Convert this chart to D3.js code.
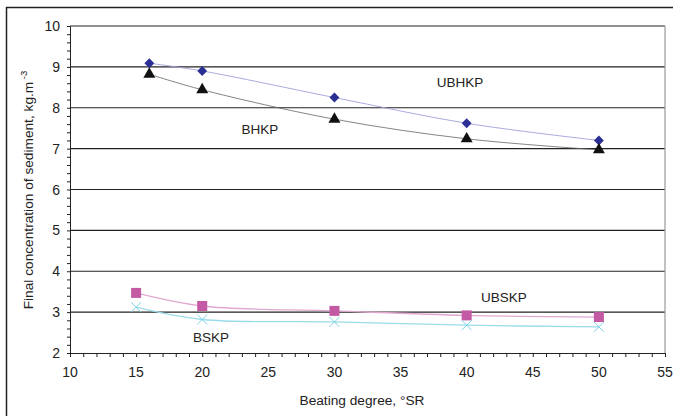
<!DOCTYPE html>
<html>
<head>
<meta charset="utf-8">
<script src="https://cdn.jsdelivr.net/npm/d3@7"></script>
<style>
  body { margin: 0; background: #fff; }
  text { font-family: "Liberation Sans", Arial, sans-serif; fill: #222; }
</style>
</head>
<body>
<svg id="chart" width="673" height="416"></svg>
<script>
// beating degree (°SR) for each series
var xHK = [16, 20, 30, 40, 50];
var xSK = [15, 20, 30, 40, 50];

// final concentration of sediment, kg.m-3
var ubhkp = [9.09, 8.9, 8.25, 7.62, 7.2];
var bhkp  = [8.82, 8.44, 7.72, 7.24, 6.97];
var ubskp = [3.47, 3.15, 3.03, 2.92, 2.88];
var bskp  = [3.12, 2.82, 2.76, 2.68, 2.64];

var xTicks = [10, 15, 20, 25, 30, 35, 40, 45, 50, 55];
var yTicks = [2, 3, 4, 5, 6, 7, 8, 9, 10];

var svg = d3.select("#chart");

// plot area (note: "top" is taken by window.top, so prefix these)
var pLeft = 70, pRight = 665, pTop = 26, pBottom = 353;

var x = d3.scaleLinear().domain([10, 55]).range([pLeft, pRight]);
var y = d3.scaleLinear().domain([2, 10]).range([pBottom, pTop]);

// outer frame (only top and left visible)
svg.append("line").attr("x1", 6).attr("x2", 673).attr("y1", 7.5).attr("y2", 7.5)
  .style("stroke", "#222").style("stroke-width", 1.5);
svg.append("line").attr("x1", 6.5).attr("x2", 6.5).attr("y1", 7).attr("y2", 416)
  .style("stroke", "#222").style("stroke-width", 1.5);

// gridlines
svg.selectAll(".grid")
  .data(yTicks.slice(1))
  .enter()
  .append("line")
  .attr("class", "grid")
  .attr("x1", pLeft).attr("x2", pRight)
  .attr("y1", d => y(d)).attr("y2", d => y(d))
  .style("stroke", "#222").style("stroke-width", 1.1);

// right edge of plot
svg.append("line").attr("x1", pRight).attr("x2", pRight).attr("y1", pTop).attr("y2", pBottom)
  .style("stroke", "#999").style("stroke-width", 1.2);

// y axis
var yAxis = svg.append("g").attr("transform", "translate(" + pLeft + ",0)");
yAxis.call(d3.axisLeft(y).tickValues(d3.range(2, 10.01, 0.2)).tickSize(3).tickFormat(""));
yAxis.selectAll("line").style("stroke", "#222");
yAxis.select(".domain").style("stroke", "#222");
svg.append("g").selectAll("text")
  .data(yTicks).enter().append("text")
  .attr("x", pLeft - 10).attr("y", d => y(d) + 5)
  .attr("text-anchor", "end").style("font-size", "14px")
  .text(d => d);

// x axis
var xAxis = svg.append("g").attr("transform", "translate(0," + pBottom + ")");
xAxis.call(d3.axisBottom(x).tickValues(d3.range(10, 55.01, 1)).tickSize(4).tickFormat(""));
xAxis.selectAll("line").style("stroke", "#222");
xAxis.select(".domain").style("stroke", "#222");
svg.append("g").selectAll("text")
  .data(xTicks).enter().append("text")
  .attr("x", d => x(d)).attr("y", pBottom + 24)
  .attr("text-anchor", "middle").style("font-size", "14px")
  .text(d => d);

// axis titles
svg.append("text")
  .attr("x", 362).attr("y", 405)
  .attr("text-anchor", "middle").style("font-size", "13.7px")
  .text("Beating degree, °SR");

var yt = svg.append("text")
  .attr("transform", "translate(33,190) rotate(-90)")
  .attr("text-anchor", "middle").style("font-size", "13.7px");
yt.append("tspan").text("Final concentration of sediment, kg.m");
yt.append("tspan").attr("dy", -6).style("font-size", "9.5px").text(" -3");

// series
var line = d3.line().curve(d3.curveCatmullRom.alpha(0.5))
  .x(d => x(d[0])).y(d => y(d[1]));

function series(xs, ys, color, w, marker, markerColor) {
  var pts = xs.map((v, i) => [v, ys[i]]);
  svg.append("path").datum(pts).attr("d", line)
    .style("fill", "none").style("stroke", color).style("stroke-width", w);
  var g = svg.append("g").selectAll("g").data(pts).enter().append("g")
    .attr("transform", d => "translate(" + x(d[0]) + "," + y(d[1]) + ")");
  if (marker == "diamond") {
    g.append("path").attr("d", d3.symbol().type(d3.symbolDiamond2).size(62))
      .style("fill", markerColor);
  } else if (marker == "triangle") {
    g.append("path").attr("d", d3.symbol().type(d3.symbolTriangle).size(62))
      .style("fill", markerColor);
  } else if (marker == "square") {
    g.append("rect").attr("x", -5).attr("y", -5).attr("width", 10).attr("height", 10)
      .style("fill", markerColor);
  } else if (marker == "cross") {
    g.append("path").attr("d", "M-5,-5L5,5M-5,5L5,-5")
      .style("stroke", markerColor).style("stroke-width", 1);
  }
}

series(xHK, ubhkp, "#a0a0dc", 0.9, "diamond", "#2b2f94");
series(xHK, bhkp, "#666", 0.8, "triangle", "#111");
series(xSK, ubskp, "#e0a8d0", 1.3, "square", "#c45aa4");
series(xSK, bskp, "#9adcea", 1.3, "cross", "#7fd3e6");

// series labels
var labels = [["UBHKP", 460, 87], ["BHKP", 260, 134], ["UBSKP", 504, 302], ["BSKP", 211, 342]];
svg.append("g").selectAll("text").data(labels).enter().append("text")
  .attr("x", d => d[1]).attr("y", d => d[2])
  .attr("text-anchor", "middle").style("font-size", "13.5px")
  .text(d => d[0]);
</script>
</body>
</html>
